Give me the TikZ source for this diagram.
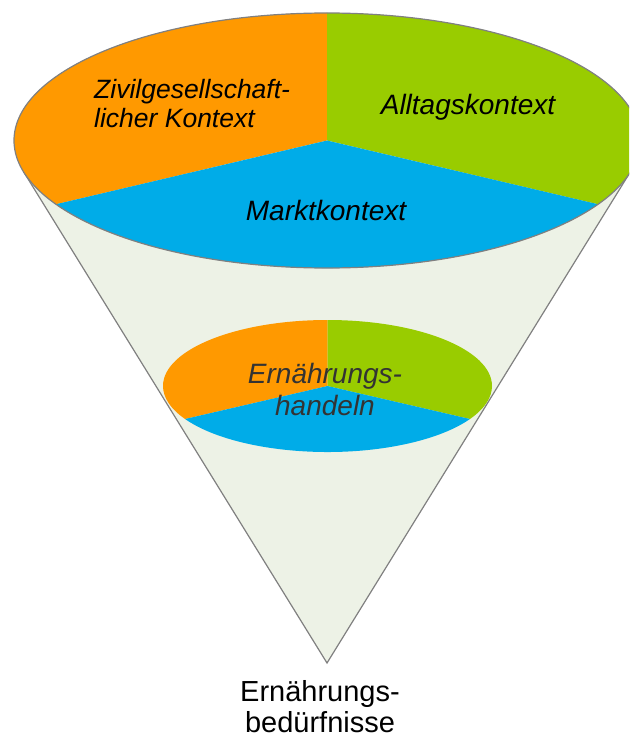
\documentclass[tikz,border=0pt]{standalone}
\usepackage{fontspec}
\usetikzlibrary{calc}
\setmainfont{Liberation Sans}
\definecolor{corange}{HTML}{FF9900}
\definecolor{cgreen}{HTML}{99CC00}
\definecolor{cblue}{HTML}{00ACE8}
\definecolor{cone}{HTML}{EDF2E6}
\definecolor{outl}{HTML}{808080}
\definecolor{darktext}{HTML}{333333}
\tikzset{
  outline/.style={draw=outl, line width=1.2pt},
  lbl/.style={inner sep=0pt, font=\itshape\fontsize{28}{32}\selectfont, align=center},
}
\begin{document}
\begin{tikzpicture}[x=1pt,y=1pt]
\useasboundingbox (0,0) rectangle (629,-738);
\clip (0,0) rectangle (629,-738);
% cone
\coordinate (tl) at (23.5,-171.6);
\coordinate (tr) at (630.5,-171.6);
\coordinate (apex) at (327,-663);
\fill[cone] (tl) -- (apex) -- (tr) -- cycle;
\draw[outl, line width=1.2pt] (tl) -- (apex) -- (tr);
% big ellipse pie
\coordinate (bc) at (327,-140.5);
\fill[corange] (bc) -- ++(0,127.5) arc[start angle=90, end angle=210, x radius=313pt, y radius=127.5pt] -- cycle;
\fill[cgreen] (bc) -- ++(0,127.5) arc[start angle=90, end angle=-30, x radius=313pt, y radius=127.5pt] -- cycle;
\fill[cblue] (bc) -- ($(bc)+(210:313pt and 127.5pt)$) arc[start angle=210, end angle=330, x radius=313pt, y radius=127.5pt] -- cycle;
\draw[outline] (bc) ellipse[x radius=313pt, y radius=127.5pt];
% small ellipse pie
\coordinate (sc) at (327.5,-386);
\fill[corange] (sc) -- ++(0,66) arc[start angle=90, end angle=210, x radius=164.5pt, y radius=66pt] -- cycle;
\fill[cgreen] (sc) -- ++(0,66) arc[start angle=90, end angle=-30, x radius=164.5pt, y radius=66pt] -- cycle;
\fill[cblue] (sc) -- ($(sc)+(210:164.5pt and 66pt)$) arc[start angle=210, end angle=330, x radius=164.5pt, y radius=66pt] -- cycle;
% labels
\node[lbl, align=left, font=\itshape\fontsize{26.5}{29}\selectfont, anchor=west] (zivil) at (94,-104) {Zivilgesellschaft-\\licher Kontext};
\node[lbl] (alltag) at (468,-107) {Alltagskontext};
\node[lbl] (markt) at (326,-210) {Marktkontext};
\node[lbl, text=darktext] (handeln) at (325,-389) {Ernährungs-\\handeln};
\node[inner sep=0pt, align=center, font=\fontsize{29}{31}\selectfont] (bed) at (320,-706.5) {Ernährungs-\\bedürfnisse};
\end{tikzpicture}
\end{document}
